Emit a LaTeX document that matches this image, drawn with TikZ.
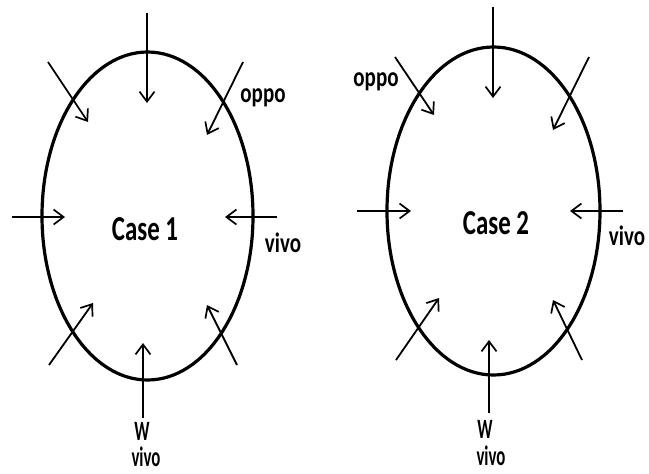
\documentclass[tikz,border=0pt]{standalone}
\usepackage{fontspec}
\setmainfont{Carlito}
\newfontfamily\casefont{Carlito}[FakeStretch=0.71]
\newfontfamily\sidefont{Carlito}[FakeStretch=0.75]
\newfontfamily\footfont{Carlito}[FakeStretch=0.6]
\usetikzlibrary{arrows.meta,shapes.geometric}
\tikzset{
  ring/.style={ellipse, draw, line width=3.2pt, minimum width=211pt, minimum height=328pt, inner sep=0pt},
  force/.style={-{Straight Barb[length=10pt,width=15pt,line width=1.7pt]}, line width=1.8pt},
  casetext/.style={font=\casefont\bfseries\fontsize{35}{37}\selectfont, inner sep=0pt},
  tag/.style={font=\sidefont\bfseries\fontsize{28}{30}\selectfont, inner sep=0pt},
  foottag/.style={font=\footfont\bfseries\fontsize{28}{30}\selectfont, inner sep=0pt}
}

\begin{document}
\begin{tikzpicture}[x=1pt, y=-1pt]
  \useasboundingbox (0,0) rectangle (649,474);
  % case 1
  \node[ring] (case1) at (147.5,216) {};
  \node[casetext] (name1) at (145,229) {Case 1};
  \foreach \i/\sx/\sy/\ex/\ey in {1/147/13/147/103, 2/48/62/88/122, 3/243/62/207/135, 4/12/217/65/217,
      5/277/217/225/217, 6/49/365/93/303, 7/237/365/207/305, 8/143/418/143/343} {
    \coordinate (p\i) at (\sx,\sy);
    \coordinate (q\i) at (\ex,\ey);
    \draw[force] (p\i) -- (q\i);
  }
  \node[tag] (oppo1) at (263,98) {oppo};
  \node[tag] (vivo1) at (283,243) {vivo};
  \node[foottag] (w1) at (142,431) {W};
  \node[foottag] (vivob1) at (146,457) {vivo};
  % case 2
  \node[ring, minimum width=213pt] (case2) at (493.5,211) {};
  \node[casetext] (name2) at (496,223) {Case 2};
  \foreach \i/\sx/\sy/\ex/\ey in {1/493/7/493/98, 2/395/57/434/115, 3/589/57/553/130, 4/357/211/411/211,
      5/623/211/570/211, 6/396/360/439/298, 7/582/360/553/300, 8/489/413/489/340} {
    \coordinate (r\i) at (\sx,\sy);
    \coordinate (s\i) at (\ex,\ey);
    \draw[force] (r\i) -- (s\i);
  }
  \node[tag] (oppo2) at (376,82) {oppo};
  \node[tag] (vivo2) at (627,236) {vivo};
  \node[foottag] (w2) at (485,429) {W};
  \node[foottag] (vivob2) at (491,456) {vivo};
\end{tikzpicture}
\end{document}
